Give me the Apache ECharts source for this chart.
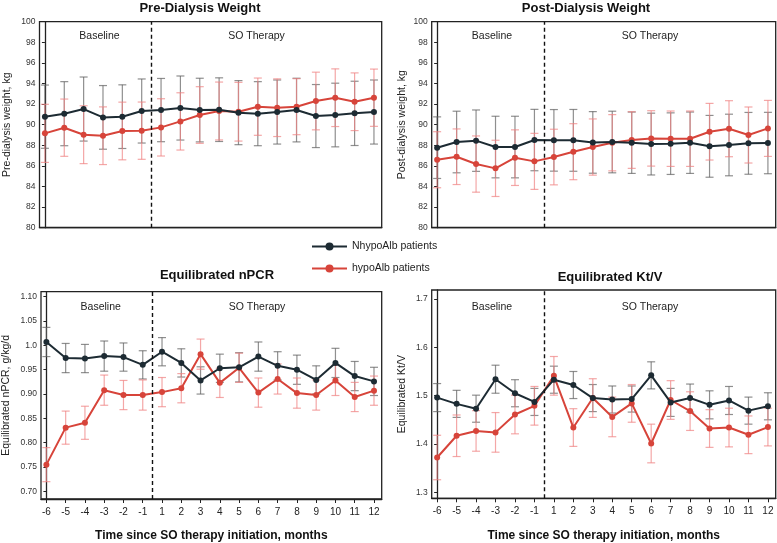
<!DOCTYPE html>
<html>
<head>
<meta charset="utf-8">
<script src="https://cdn.jsdelivr.net/npm/echarts@6/dist/echarts.min.js"></script>
<style>
  html, body { margin: 0; padding: 0; background: #fff; }
  #chart { width: 777px; height: 543px; }
</style>
</head>
<body>
<div id="chart"></div>
<script>
'use strict';

// months relative to SO therapy start (no month 0)
const months = ['-6', '-5', '-4', '-3', '-2', '-1', '1', '2', '3', '4', '5', '6', '7', '8', '9', '10', '11', '12'];

const groupNames = ['NhypoAlb patients', 'hypoAlb patients'];

// pre-dialysis weight, kg (mean and error half-width)
const preN = [90.78, 91.07, 91.52, 90.71, 90.78, 91.33, 91.42, 91.62, 91.42, 91.46, 91.17, 91.07, 91.23, 91.42, 90.84, 90.94, 91.10, 91.23];
const preNErr = [3.07, 3.11, 3.11, 3.09, 3.09, 3.11, 3.07, 3.11, 3.09, 3.09, 3.11, 3.11, 3.11, 3.09, 3.06, 3.09, 3.12, 3.11];
const preH = [89.16, 89.71, 89.03, 88.93, 89.39, 89.42, 89.74, 90.32, 90.94, 91.33, 91.26, 91.75, 91.65, 91.75, 92.30, 92.62, 92.23, 92.62];
const preHErr = [2.82, 2.78, 2.81, 2.80, 2.80, 2.78, 2.78, 2.78, 2.75, 2.81, 2.85, 2.78, 2.80, 2.72, 2.80, 2.80, 2.80, 2.78];

// post-dialysis weight, kg
const postN = [87.77, 88.32, 88.45, 87.83, 87.83, 88.51, 88.48, 88.48, 88.28, 88.32, 88.25, 88.12, 88.16, 88.25, 87.90, 88.03, 88.19, 88.22];
const postNErr = [2.99, 2.99, 2.98, 2.99, 2.99, 2.98, 2.99, 3.00, 2.99, 2.99, 2.98, 3.00, 2.99, 2.98, 3.00, 2.99, 3.00, 2.98];
const postH = [86.60, 86.89, 86.18, 85.76, 86.80, 86.44, 86.86, 87.38, 87.83, 88.25, 88.51, 88.67, 88.64, 88.64, 89.32, 89.61, 89.00, 89.64];
const postHErr = [2.72, 2.70, 2.73, 2.73, 2.70, 2.72, 2.70, 2.72, 2.73, 2.73, 2.75, 2.69, 2.69, 2.69, 2.75, 2.72, 2.72, 2.72];

// equilibrated nPCR, g/kg/d
const npcrN = [1.007, 0.974, 0.973, 0.978, 0.976, 0.960, 0.987, 0.964, 0.928, 0.953, 0.955, 0.977, 0.958, 0.950, 0.929, 0.964, 0.937, 0.926];
const npcrNErr = [0.030, 0.030, 0.029, 0.031, 0.029, 0.029, 0.029, 0.029, 0.028, 0.029, 0.030, 0.030, 0.029, 0.030, 0.029, 0.030, 0.030, 0.029];
const npcrH = [0.755, 0.831, 0.841, 0.908, 0.898, 0.898, 0.904, 0.912, 0.982, 0.923, 0.954, 0.903, 0.931, 0.902, 0.898, 0.928, 0.894, 0.907];
const npcrHErr = [0.035, 0.034, 0.034, 0.031, 0.030, 0.031, 0.030, 0.030, 0.031, 0.030, 0.030, 0.030, 0.031, 0.031, 0.031, 0.031, 0.030, 0.030];

// equilibrated Kt/V
const ktvN = [1.496, 1.483, 1.473, 1.534, 1.505, 1.487, 1.533, 1.522, 1.495, 1.492, 1.493, 1.542, 1.486, 1.495, 1.481, 1.490, 1.469, 1.478];
const ktvNErr = [0.029, 0.028, 0.028, 0.029, 0.028, 0.028, 0.028, 0.028, 0.028, 0.028, 0.027, 0.028, 0.029, 0.029, 0.029, 0.029, 0.028, 0.028];
const ktvH = [1.372, 1.417, 1.427, 1.424, 1.461, 1.479, 1.541, 1.434, 1.495, 1.456, 1.484, 1.401, 1.491, 1.468, 1.432, 1.434, 1.419, 1.435];
const ktvHErr = [0.046, 0.043, 0.042, 0.041, 0.040, 0.040, 0.040, 0.039, 0.040, 0.041, 0.039, 0.040, 0.040, 0.040, 0.039, 0.040, 0.039, 0.039];

// y tick values and their printed labels
const weightTicks = [80, 82, 84, 86, 88, 90, 92, 94, 96, 98, 100];
const weightTickLabels = ['80', '82', '84', '86', '88', '90', '92', '94', '96', '98', '100'];
const npcrTicks = [0.70, 0.75, 0.80, 0.85, 0.90, 0.95, 1.00, 1.05, 1.10];
const npcrTickLabels = ['0.70', '0.75', '0.80', '0.85', '0.90', '0.95', '1.0', '1.05', '1.10'];
const ktvTicks = [1.3, 1.4, 1.5, 1.6, 1.7];
const ktvTickLabels = ['1.3', '1.4', '1.5', '1.6', '1.7'];

const FONT = '"Liberation Sans", Arial, Helvetica, sans-serif';
const DARK = '#1d2b33';
const RED = '#d7443a';
const DARK_BAR = 'rgba(95, 95, 95, 0.7)';
const RED_BAR = 'rgba(240, 130, 130, 0.7)';

const panels = [
    {
        title: 'Pre-Dialysis Weight', titleX: 200, titleY: 2,
        yName: 'Pre-dialysis weight, kg', nameGap: 27,
        n: preN, nErr: preNErr, h: preH, hErr: preHErr,
        yMin: 80, yMax: 100, ticks: weightTicks, labels: weightTickLabels,
        grid: { left: 39.5, top: 21.7, width: 342.2, height: 206 },
        showX: false, textY: 37
    },
    {
        title: 'Post-Dialysis Weight', titleX: 586, titleY: 2,
        yName: 'Post-dialysis weight, kg', nameGap: 24,
        n: postN, nErr: postNErr, h: postH, hErr: postHErr,
        yMin: 80, yMax: 100, ticks: weightTicks, labels: weightTickLabels,
        grid: { left: 431.7, top: 21.7, width: 344, height: 206 },
        showX: false, textY: 37
    },
    {
        title: 'Equilibrated nPCR', titleX: 217, titleY: 269,
        yName: 'Equilibrated nPCR, g/kg/d', nameGap: 29,
        n: npcrN, nErr: npcrNErr, h: npcrH, hErr: npcrHErr,
        yMin: 0.6844, yMax: 1.1103, ticks: npcrTicks, labels: npcrTickLabels,
        grid: { left: 40, top: 291.7, width: 341.7, height: 207.6 },
        showX: true, textY: 308
    },
    {
        title: 'Equilibrated Kt/V', titleX: 610, titleY: 271,
        yName: 'Equilibrated Kt/V', nameGap: 24,
        n: ktvN, nErr: ktvNErr, h: ktvH, hErr: ktvHErr,
        yMin: 1.2876, yMax: 1.7186, ticks: ktvTicks, labels: ktvTickLabels,
        grid: { left: 431.7, top: 290, width: 344, height: 208.3 },
        showX: true, textY: 308
    }
];

const monthIdx = months.map((m, i) => i);

const errorBar = (color) => (params, api) => {
    const x = api.value(0);
    const lo = api.coord([x, api.value(1)]);
    const hi = api.coord([x, api.value(2)]);
    const w = 4;
    const style = { stroke: color, lineWidth: 1.2 };
    return {
        type: 'group',
        children: [
            { type: 'line', shape: { x1: lo[0], y1: lo[1], x2: hi[0], y2: hi[1] }, style: style },
            { type: 'line', shape: { x1: lo[0] - w, y1: lo[1], x2: lo[0] + w, y2: lo[1] }, style: style },
            { type: 'line', shape: { x1: hi[0] - w, y1: hi[1], x2: hi[0] + w, y2: hi[1] }, style: style }
        ]
    };
};

const labelFor = (ticks, labels) => (v) => {
    const i = ticks.findIndex((t) => Math.abs(t - v) < 1e-9);
    return i >= 0 ? labels[i] : '';
};

const grids = [];
const xAxes = [];
const yAxes = [];
const series = [];
const titles = [];

panels.forEach((p, k) => {
    grids.push(Object.assign({ show: true, borderColor: '#222', borderWidth: 1.3, containLabel: false }, p.grid));

    titles.push({
        text: p.title, left: p.titleX, top: p.titleY, textAlign: 'center', padding: 0,
        textStyle: { fontFamily: FONT, fontSize: 13, fontWeight: 'bold', color: '#111' }
    });

    xAxes.push({
        type: 'value', gridIndex: k, min: -0.28, max: 17.4,
        splitLine: { show: false },
        axisLine: { show: true, lineStyle: { color: '#222', width: 1.3 } },
        axisTick: { show: p.showX, customValues: monthIdx, length: 4, lineStyle: { color: '#222' } },
        axisLabel: {
            show: p.showX, customValues: monthIdx, margin: 8,
            fontFamily: FONT, fontSize: 10, color: '#222',
            formatter: (v) => months[Math.round(v)]
        },
        name: p.showX ? 'Time since SO therapy initiation, months' : '',
        nameLocation: 'middle', nameGap: 31,
        nameTextStyle: { fontFamily: FONT, fontSize: 12, fontWeight: 'bold', color: '#111' }
    });

    yAxes.push({
        type: 'value', gridIndex: k, min: p.yMin, max: p.yMax,
        splitLine: { show: false },
        axisLine: { show: true, lineStyle: { color: '#222', width: 1.3 } },
        axisTick: { show: true, customValues: p.ticks, length: 3, lineStyle: { color: '#222' } },
        axisLabel: {
            customValues: p.ticks, margin: 4,
            fontFamily: FONT, fontSize: 8.5, color: '#333',
            formatter: labelFor(p.ticks, p.labels)
        },
        name: p.yName, nameLocation: 'middle', nameGap: p.nameGap, nameRotate: 90,
        nameTextStyle: { fontFamily: FONT, fontSize: 10.5, color: '#222' }
    });

    // error bars first so the lines sit on top
    series.push({
        type: 'custom', name: 'errN' + k, xAxisIndex: k, yAxisIndex: k, z: 2,
        renderItem: errorBar(DARK_BAR),
        encode: { x: 0, y: [1, 2] },
        data: p.n.map((v, i) => [i, v - p.nErr[i], v + p.nErr[i]])
    });
    series.push({
        type: 'custom', name: 'errH' + k, xAxisIndex: k, yAxisIndex: k, z: 2,
        renderItem: errorBar(RED_BAR),
        encode: { x: 0, y: [1, 2] },
        data: p.h.map((v, i) => [i, v - p.hErr[i], v + p.hErr[i]])
    });

    series.push({
        type: 'line', name: groupNames[0], xAxisIndex: k, yAxisIndex: k, z: 4,
        data: p.n.map((v, i) => [i, v]),
        symbol: 'circle', symbolSize: 6,
        lineStyle: { color: DARK, width: 2 }, itemStyle: { color: DARK },
        markLine: {
            silent: true, symbol: 'none', label: { show: false },
            lineStyle: { color: '#111', type: [4, 3], width: 1.4 },
            data: [{ xAxis: 5.5 }]
        },
        markArea: {
            silent: true,
            itemStyle: { color: 'rgba(0,0,0,0)' },
            label: {
                position: 'insideTop', distance: p.textY - p.grid.top - 6,
                fontFamily: FONT, fontSize: 10.5, color: '#222'
            },
            data: [
                [{ name: 'Baseline', xAxis: -0.28, label: { offset: [4, 0] } }, { xAxis: 5.5 }],
                [{ name: 'SO Therapy', xAxis: 5.5, label: { offset: [-10, 0] } }, { xAxis: 17.4 }]
            ]
        }
    });
    series.push({
        type: 'line', name: groupNames[1], xAxisIndex: k, yAxisIndex: k, z: 3,
        data: p.h.map((v, i) => [i, v]),
        symbol: 'circle', symbolSize: 6,
        lineStyle: { color: RED, width: 2 }, itemStyle: { color: RED }
    });
});

const chart = echarts.init(document.getElementById('chart'));
chart.setOption({
    animation: false,
    backgroundColor: '#fff',
    title: titles,
    legend: {
        data: groupNames, orient: 'vertical', left: 311, top: 241, padding: 0,
        itemWidth: 35, itemHeight: 10, itemGap: 11,
        itemStyle: { borderWidth: 0 },
        textStyle: { fontFamily: FONT, fontSize: 10.5, color: '#222' }
    },
    grid: grids,
    xAxis: xAxes,
    yAxis: yAxes,
    series: series
});
</script>
</body>
</html>
